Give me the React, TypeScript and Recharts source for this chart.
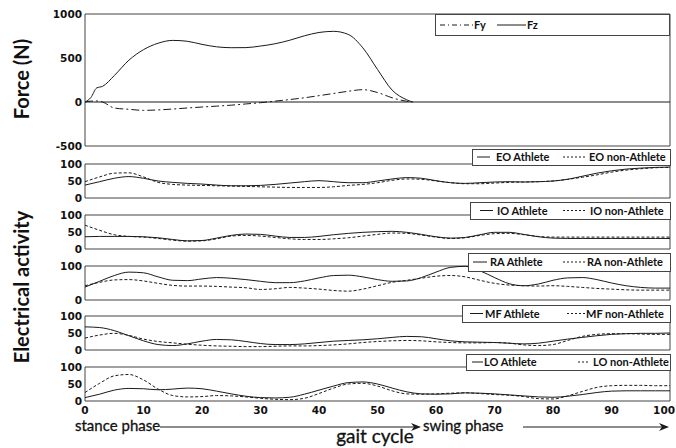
import React from "react";
import {
  LineChart,
  Line,
  XAxis,
  YAxis,
  ReferenceLine,
  ReferenceArea,
} from "recharts";

// ground reaction force, % of gait cycle
const forceX = [0, 1, 2, 3, 5, 7.5, 10, 12.5, 15, 17.5, 20, 22.5, 25, 27.5, 30, 32.5, 35, 37.5, 40, 42.5, 45, 47.5, 50, 52.5, 55, 56];
const fz = [0, 50, 160, 178, 300, 475, 595, 668, 700, 690, 655, 627, 617, 618, 636, 662, 702, 752, 790, 803, 768, 615, 370, 135, 25, 0];
const fy = [0, 10, 12, 0, -68, -83, -95, -90, -80, -68, -57, -47, -36, -22, -8, 10, 28, 48, 72, 97, 122, 140, 108, 48, 8, 0];

// emg, % of gait cycle
const emgX = [0, 2.5, 5, 7.5, 10, 12.5, 15, 17.5, 20, 22.5, 25, 27.5, 30, 32.5, 35, 37.5, 40, 42.5, 45, 47.5, 50, 52.5, 55, 57.5, 60, 62.5, 65, 67.5, 70, 72.5, 75, 77.5, 80, 82.5, 85, 87.5, 90, 92.5, 95, 97.5, 100];

const eoAthlete = [38, 48, 58, 63, 58, 50, 46, 43, 41, 38, 36, 36, 37, 40, 44, 48, 51, 48, 45, 45, 50, 56, 60, 58, 51, 45, 43, 45, 47, 48, 47, 48, 50, 55, 64, 73, 80, 85, 88, 90, 91];
const eoNon = [48, 62, 73, 74, 62, 46, 40, 38, 37, 36, 35, 34, 33, 32, 31, 31, 31, 33, 37, 40, 45, 52, 56, 55, 50, 45, 42, 42, 44, 46, 47, 48, 50, 55, 61, 68, 76, 82, 86, 89, 90];

const ioAthlete = [36, 37, 37, 37, 36, 33, 28, 24, 25, 32, 40, 44, 43, 38, 34, 34, 37, 42, 46, 49, 51, 52, 49, 43, 36, 32, 34, 42, 49, 49, 43, 36, 32, 31, 31, 31, 31, 31, 31, 31, 31];
const ioNon = [70, 55, 42, 37, 35, 31, 26, 23, 24, 30, 38, 40, 38, 34, 30, 28, 28, 30, 33, 38, 43, 47, 46, 41, 35, 31, 33, 40, 45, 46, 42, 37, 35, 35, 35, 35, 35, 35, 35, 35, 35];

const raAthlete = [38, 55, 72, 82, 80, 68, 58, 57, 62, 66, 64, 60, 55, 51, 51, 56, 65, 72, 73, 68, 60, 55, 56, 66, 82, 96, 99, 86, 66, 48, 42, 47, 58, 65, 66, 60, 50, 42, 37, 35, 35];
const raNon = [42, 52, 59, 60, 56, 49, 43, 41, 41, 40, 38, 36, 31, 33, 37, 35, 32, 28, 26, 32, 42, 52, 58, 64, 70, 72, 68, 58, 49, 44, 42, 41, 42, 40, 37, 34, 32, 30, 29, 29, 29];

const mfAthlete = [68, 66, 57, 42, 27, 16, 13, 18, 26, 31, 30, 25, 19, 16, 16, 18, 22, 26, 28, 30, 33, 37, 40, 39, 33, 27, 24, 23, 22, 20, 18, 20, 26, 32, 37, 42, 46, 48, 49, 49, 50];
const mfNon = [35, 44, 49, 43, 32, 25, 21, 17, 14, 12, 11, 10, 10, 11, 12, 12, 13, 15, 18, 22, 25, 27, 28, 27, 24, 22, 21, 21, 22, 20, 15, 13, 16, 28, 40, 46, 48, 48, 47, 46, 46];

const loAthlete = [10, 20, 32, 37, 36, 33, 35, 38, 36, 29, 21, 14, 10, 9, 11, 20, 32, 44, 54, 56, 50, 38, 27, 21, 20, 21, 24, 23, 21, 18, 15, 12, 11, 14, 19, 25, 29, 30, 30, 30, 30];
const loNon = [25, 52, 74, 78, 62, 35, 16, 12, 13, 16, 15, 12, 8, 5, 4, 8, 22, 38, 50, 52, 44, 30, 21, 20, 21, 23, 24, 22, 19, 17, 13, 7, 6, 15, 28, 40, 45, 46, 46, 45, 45];

const xTicks = [0, 10, 20, 30, 40, 50, 60, 70, 80, 90, 100];
const innerTicks = [10, 20, 30, 40, 50, 60, 70, 80, 90];

const forceRows = forceX.map((x, i) => ({ x, fy: fy[i], fz: fz[i] }));

const muscles = [
  { name: "EO", athlete: eoAthlete, non: eoNon, ticks: [0, 50, 100], mid: true },
  { name: "IO", athlete: ioAthlete, non: ioNon, ticks: [0, 50, 100], mid: true },
  { name: "RA", athlete: raAthlete, non: raNon, ticks: [0, 100], mid: false },
  { name: "MF", athlete: mfAthlete, non: mfNon, ticks: [0, 50, 100], mid: true },
  { name: "LO", athlete: loAthlete, non: loNon, ticks: [0, 50, 100], mid: true },
];

// plot boxes (top/bottom) and legend boxes, in page pixels
const panelBox = [
  { top: 164, bottom: 198 },
  { top: 215, bottom: 249 },
  { top: 266, bottom: 300 },
  { top: 316, bottom: 350 },
  { top: 367, bottom: 401 },
];
const legendBox = [
  { left: 472, top: 149, bottom: 165, l1: [477, 490], t1: 496, l2: [563, 585], t2: 589 },
  { left: 470, top: 202, bottom: 219, l1: [480, 493], t1: 497, l2: [563, 585], t2: 590 },
  { left: 468, top: 253, bottom: 271, l1: [473, 487], t1: 490, l2: [563, 585], t2: 587 },
  { left: 462, top: 305, bottom: 322, l1: [470, 483], t1: 485, l2: [567, 585], t2: 586 },
  { left: 466, top: 354, bottom: 370, l1: [472, 483], t1: 484, l2: [578, 588], t2: 593 },
];

const INK = "#1a1a1a";
const FRAME = "#444";
const tickFont = { fontFamily: "DejaVu Sans", fontWeight: 700, fontSize: 10.5, fill: "#111" };
const legendFont = { fontFamily: "Lato", fontWeight: 700, fontSize: 11, fill: "#111" };

// keeps the last label ("100") inside the page
function GaitTick(props: any) {
  const { x, y, payload } = props;
  const atEnd = payload.value === 100;
  return (
    <text x={atEnd ? 675 : x} y={y} dy="0.71em" textAnchor={atEnd ? "end" : "middle"} {...tickFont}>
      {payload.value}
    </text>
  );
}

function ForcePanel() {
  return (
    <div style={{ position: "absolute", left: 0, top: 0 }}>
      <LineChart width={676} height={152} data={forceRows} margin={{ top: 14, right: 6, bottom: 6, left: 45 }}>
        <XAxis dataKey="x" type="number" domain={[0, 100]} hide />
        <YAxis width={40} domain={[-500, 1000]} ticks={[-500, 0, 500, 1000]} interval={0}
          tick={tickFont} tickLine={false} axisLine={false} tickSize={2} tickMargin={1} />
        <YAxis yAxisId="r" orientation="right" mirror domain={[-500, 1000]} ticks={[500]}
          tick={false} tickSize={6} axisLine={false} stroke={FRAME} />
        <ReferenceArea x1={0} x2={100} y1={-500} y2={1000} fill="none" stroke={FRAME} strokeOpacity={1} fillOpacity={0} />
        <ReferenceLine y={0} stroke={INK} />
        <Line type="monotone" dataKey="fy" stroke={INK} strokeWidth={1} strokeDasharray="8 3 2 3"
          dot={false} isAnimationActive={false} />
        <Line type="monotone" dataKey="fz" stroke={INK} strokeWidth={1} dot={false} isAnimationActive={false} />
      </LineChart>
    </div>
  );
}

function MusclePanel({ idx }: { idx: number }) {
  const m = muscles[idx];
  const box = panelBox[idx];
  const last = idx === muscles.length - 1;
  const rows = emgX.map((x, i) => ({ x, a: m.athlete[i], n: m.non[i] }));
  const h = box.bottom - box.top;
  const height = last ? 8 + h + 24 : 8 + h + 8;
  return (
    <div style={{ position: "absolute", left: 0, top: box.top - 8 }}>
      <LineChart width={676} height={height} data={rows}
        margin={{ top: 8, right: 6, bottom: last ? 4 : 8, left: 45 }}>
        {last ? (
          <XAxis dataKey="x" type="number" domain={[0, 100]} ticks={xTicks} interval={0}
            tick={<GaitTick />} tickLine={false} axisLine={false} tickSize={4} tickMargin={2} height={20} />
        ) : (
          <XAxis dataKey="x" type="number" domain={[0, 100]} hide />
        )}
        {last && (
          <XAxis xAxisId="t" orientation="top" mirror type="number" domain={[0, 100]} ticks={innerTicks}
            interval={0} tick={false} tickSize={4} axisLine={false} stroke={FRAME} />
        )}
        {last && (
          <XAxis xAxisId="b" orientation="bottom" mirror type="number" domain={[0, 100]} ticks={innerTicks}
            interval={0} tick={false} tickSize={4} axisLine={false} stroke={FRAME} />
        )}
        <YAxis width={40} domain={[0, 100]} ticks={m.ticks} interval={0}
          tick={tickFont} tickLine={false} axisLine={false} tickSize={2} tickMargin={1} />
        {m.mid && (
          <YAxis yAxisId="r" orientation="right" mirror domain={[0, 100]} ticks={[50]}
            tick={false} tickSize={6} axisLine={false} stroke={FRAME} />
        )}
        <ReferenceArea x1={0} x2={100} y1={0} y2={100} fill="none" stroke={FRAME} strokeOpacity={1} fillOpacity={0} />
        <Line type="monotone" dataKey="n" stroke={INK} strokeWidth={1} strokeDasharray="3 2"
          dot={false} isAnimationActive={false} />
        <Line type="monotone" dataKey="a" stroke={INK} strokeWidth={1} dot={false} isAnimationActive={false} />
      </LineChart>
    </div>
  );
}

function Overlay() {
  return (
    <svg width={676} height={448} style={{ position: "absolute", left: 0, top: 0, pointerEvents: "none" }}>
      {/* force legend */}
      <rect x={435.5} y={14.5} width={234} height={21} fill="#fff" stroke={FRAME} />
      <line x1={440} x2={473} y1={25} y2={25} stroke={INK} strokeDasharray="5 3 1 3" />
      <text x={474} y={29} {...legendFont}>Fy</text>
      <line x1={497} x2={526} y1={25} y2={25} stroke={INK} />
      <text x={527} y={29} {...legendFont}>Fz</text>

      {legendBox.map((b, i) => {
        const cy = (b.top + b.bottom) / 2;
        const name = muscles[i].name;
        return (
          <g key={name}>
            <rect x={b.left + 0.5} y={b.top + 0.5} width={670 - b.left} height={b.bottom - b.top}
              fill="#fff" stroke={FRAME} />
            <line x1={b.l1[0]} x2={b.l1[1]} y1={cy} y2={cy} stroke={INK} />
            <text x={b.t1} y={cy + 4} {...legendFont}>{name} Athlete</text>
            <line x1={b.l2[0]} x2={b.l2[1]} y1={cy} y2={cy} stroke={INK} strokeDasharray="2 2" />
            <text x={b.t2} y={cy + 4} {...legendFont}>{name} non-Athlete</text>
          </g>
        );
      })}

      <text transform="translate(29,79) rotate(-90)" textAnchor="middle"
        fontFamily="Lato" fontWeight={700} fontSize={20} fill="#111">Force (N)</text>
      <text transform="translate(29,287) rotate(-90)" textAnchor="middle"
        fontFamily="Lato" fontWeight={700} fontSize={20} fill="#111">Electrical activity</text>

      <text x={75} y={431} fontFamily="Lato" fontSize={15} fill="#111" stroke="#111" strokeWidth={0.3}>stance phase</text>
      <line x1={160} x2={416} y1={427} y2={427} stroke={INK} />
      <path d="M411,423 L421,427 L411,431 L414,427 Z" fill={INK} />
      <text x={423} y={431} fontFamily="Lato" fontSize={15} fill="#111" stroke="#111" strokeWidth={0.3}>swing phase</text>
      <line x1={523} x2={664} y1={427} y2={427} stroke={INK} />
      <path d="M659,423 L669,427 L659,431 L662,427 Z" fill={INK} />
      <text x={375} y={443} textAnchor="middle" fontFamily="Lato" fontSize={19} fill="#111" stroke="#111" strokeWidth={0.3}>gait cycle</text>
    </svg>
  );
}

export default function App() {
  return (
    <div style={{ position: "fixed", left: 0, top: 0, width: 676, height: 448, background: "#fff" }}>
      <ForcePanel />
      {muscles.map((m, i) => (
        <MusclePanel key={m.name} idx={i} />
      ))}
      <Overlay />
    </div>
  );
}
